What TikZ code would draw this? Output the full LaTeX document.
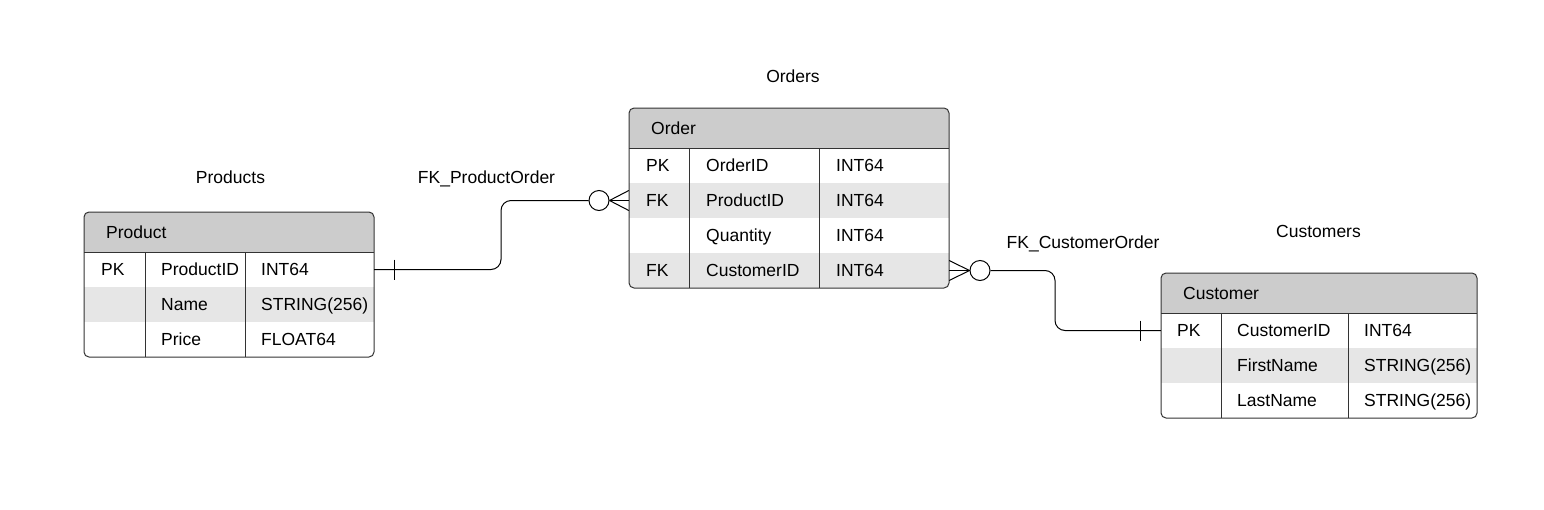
\documentclass[tikz,border=0pt]{standalone}
\usepackage{fontspec}
\setmainfont{Liberation Sans}
\definecolor{hdrgrey}{HTML}{CCCCCC}
\definecolor{rowgrey}{HTML}{E6E6E6}
\definecolor{ln}{HTML}{333333}
\tikzset{
  cell/.style={anchor=base west, inner sep=0pt, font=\fontsize{17.5}{20}\selectfont, text=black},
  lbl/.style={anchor=base, inner sep=0pt, font=\fontsize{17.5}{20}\selectfont, text=black},
  rowbox/.style={inner sep=0pt, draw=none},
  frame/.style={draw=ln, line width=1pt, rounded corners=5pt},
  sep/.style={draw=ln, line width=1pt},
  conn/.style={draw=black, line width=1pt},
  ring/.style={circle, draw=black, line width=1pt, fill=white, minimum size=20pt, inner sep=0pt},
}
\begin{document}
\begin{tikzpicture}[x=1pt,y=-1pt]
\path[use as bounding box, fill=white] (0,0) rectangle (1544,509);

% ---------- Product table ----------
\begin{scope}
\clip[rounded corners=5pt] (84,212) rectangle (374,357);
\fill[fill=hdrgrey] (84,212) rectangle (374,252);
\fill[fill=rowgrey] (84,287) rectangle (374,322);
\end{scope}
\node[rowbox, minimum width=290pt, minimum height=40pt] (pH) at (229,232) {};
\node[rowbox, minimum width=290pt, minimum height=35pt] (p1) at (229,269.5) {};
\node[rowbox, minimum width=290pt, minimum height=35pt] (p2) at (229,304.5) {};
\node[rowbox, minimum width=290pt, minimum height=35pt] (p3) at (229,339.5) {};
\draw[sep] (84,252) -- (374,252);
\draw[sep] (145,252) -- (145,357);
\draw[sep] (245,252) -- (245,357);
\draw[frame] (84,212) rectangle (374,357);
\node[cell] at (106,238.3) {Product};
\node[cell] at (101,275.8) {PK};
\node[cell] at (161,275.8) {ProductID};
\node[cell] at (261,275.8) {INT64};
\node[cell] at (161,310.8) {Name};
\node[cell] at (261,310.8) {STRING(256)};
\node[cell] at (161,345.8) {Price};
\node[cell] at (261,345.8) {FLOAT64};
\node[lbl] (pL) at (230.5,183.3) {Products};

% ---------- Order table ----------
\begin{scope}
\clip[rounded corners=5pt] (629,108) rectangle (949,288);
\fill[fill=hdrgrey] (629,108) rectangle (949,148);
\fill[fill=rowgrey] (629,183) rectangle (949,218);
\fill[fill=rowgrey] (629,253) rectangle (949,288);
\end{scope}
\node[rowbox, minimum width=320pt, minimum height=40pt] (oH) at (789,128) {};
\node[rowbox, minimum width=320pt, minimum height=35pt] (o1) at (789,165.5) {};
\node[rowbox, minimum width=320pt, minimum height=35pt] (o2) at (789,200.5) {};
\node[rowbox, minimum width=320pt, minimum height=35pt] (o3) at (789,235.5) {};
\node[rowbox, minimum width=320pt, minimum height=35pt] (o4) at (789,270.5) {};
\draw[sep] (629,148) -- (949,148);
\draw[sep] (689,148) -- (689,288);
\draw[sep] (819,148) -- (819,288);
\draw[frame] (629,108) rectangle (949,288);
\node[cell] at (651,134.3) {Order};
\node[cell] at (646,171.8) {PK};
\node[cell] at (706,171.8) {OrderID};
\node[cell] at (836,171.8) {INT64};
\node[cell] at (646,206.8) {FK};
\node[cell] at (706,206.8) {ProductID};
\node[cell] at (836,206.8) {INT64};
\node[cell] at (706,241.8) {Quantity};
\node[cell] at (836,241.8) {INT64};
\node[cell] at (646,276.8) {FK};
\node[cell] at (706,276.8) {CustomerID};
\node[cell] at (836,276.8) {INT64};
\node[lbl] (oL) at (793,82.3) {Orders};

% ---------- Customer table ----------
\begin{scope}
\clip[rounded corners=5pt] (1161,273) rectangle (1477,418);
\fill[fill=hdrgrey] (1161,273) rectangle (1477,313);
\fill[fill=rowgrey] (1161,348) rectangle (1477,383);
\end{scope}
\node[rowbox, minimum width=316pt, minimum height=40pt] (cH) at (1319,293) {};
\node[rowbox, minimum width=316pt, minimum height=35pt] (c1) at (1319,330.5) {};
\node[rowbox, minimum width=316pt, minimum height=35pt] (c2) at (1319,365.5) {};
\node[rowbox, minimum width=316pt, minimum height=35pt] (c3) at (1319,400.5) {};
\draw[sep] (1161,313) -- (1477,313);
\draw[sep] (1221,313) -- (1221,418);
\draw[sep] (1348,313) -- (1348,418);
\draw[frame] (1161,273) rectangle (1477,418);
\node[cell] at (1183,299.3) {Customer};
\node[cell] at (1177,336.8) {PK};
\node[cell] at (1237,336.8) {CustomerID};
\node[cell] at (1364,336.8) {INT64};
\node[cell] at (1237,371.8) {FirstName};
\node[cell] at (1364,371.8) {STRING(256)};
\node[cell] at (1237,406.8) {LastName};
\node[cell] at (1364,406.8) {STRING(256)};
\node[lbl] (cL) at (1318.5,237.3) {Customers};

% ---------- FK_ProductOrder ----------
\node[ring] (r1) at (599,200.5) {};
\draw[conn, rounded corners=10pt] (p1.east) -- (501,269.5) -- (501,200.5) -- (r1.west);
\draw[conn] ([xshift=20pt]p1.east) ++(0,-10) -- ++(0,20);
\draw[conn] (r1.east) -- (o2.west);
\draw[conn] (r1.east) -- ([yshift=10pt]o2.west);
\draw[conn] (r1.east) -- ([yshift=-10pt]o2.west);
\node[lbl] (l1) at (486.5,183.3) {FK\_ProductOrder};

% ---------- FK_CustomerOrder ----------
\node[ring] (r2) at (980,270.5) {};
\draw[conn] (r2.west) -- (o4.east);
\draw[conn] (r2.west) -- ([yshift=10pt]o4.east);
\draw[conn] (r2.west) -- ([yshift=-10pt]o4.east);
\draw[conn, rounded corners=10pt] (r2.east) -- (1055,270.5) -- (1055,330.5) -- (c1.west);
\draw[conn] ([xshift=-20pt]c1.west) ++(0,-10) -- ++(0,20);
\node[lbl] (l2) at (1083,248.3) {FK\_CustomerOrder};
\end{tikzpicture}
\end{document}
